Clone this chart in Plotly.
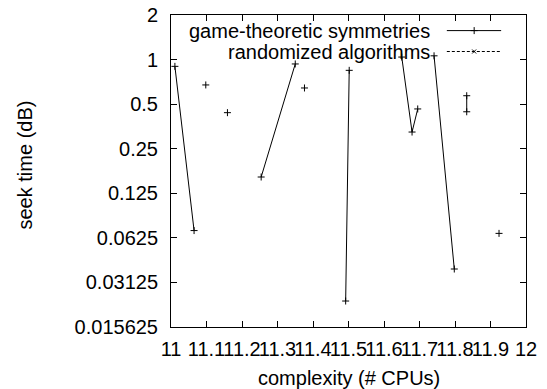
import plotly.graph_objects as go

# data (None breaks separate line segments)
gts_x = [11.011, 11.065, None, 11.098, None, 11.159, None, 11.254, 11.350, None,
         11.376, None, 11.502, 11.492, None, 11.650, 11.679, 11.695, None,
         11.741, 11.798, None, 11.833, 11.833, None, 11.924]
gts_y = [0.90, 0.070, None, 0.674, None, 0.438, None, 0.161, 0.934, None,
         0.643, None, 0.846, 0.0234, None, 1.04, 0.324, 0.464, None,
         1.06, 0.0385, None, 0.57, 0.444, None, 0.067]
rand_x = []
rand_y = []

series_names = ["game-theoretic symmetries", "randomized algorithms"]
x_ticks = [11.0, 11.1, 11.2, 11.3, 11.4, 11.5, 11.6, 11.7, 11.8, 11.9, 12.0]
x_ticklabels = ["11", "11.1", "11.2", "11.3", "11.4", "11.5", "11.6", "11.7", "11.8", "11.9", "12"]
y_ticks = [0.015625, 0.03125, 0.0625, 0.125, 0.25, 0.5, 1, 2]
y_ticklabels = ["0.015625", "0.03125", "0.0625", "0.125", "0.25", "0.5", "1", "2"]

FONT = "Liberation Sans, Arial, sans-serif"
FS = 20

fig = go.Figure()
fig.add_trace(go.Scatter(x=gts_x, y=gts_y, mode="lines+markers", connectgaps=False,
                         line=dict(color="black", width=1),
                         marker=dict(symbol="cross-thin", size=5, line=dict(color="black", width=1)),
                         showlegend=False))
fig.add_trace(go.Scatter(x=rand_x, y=rand_y, mode="lines+markers",
                         line=dict(color="black", width=1, dash="dash"),
                         marker=dict(symbol="x-thin", size=4, line=dict(color="black", width=1)),
                         showlegend=False))

# manual gnuplot-style legend (text right, sample on the right)
leg_y = [0.95, 0.883]
styles = [dict(dash="solid", sym="cross-thin", size=5), dict(dash="3px,2px", sym="x-thin", size=4)]
for name, yy, st in zip(series_names, leg_y, styles):
    fig.add_trace(go.Scatter(x=[0.777, 0.93], y=[yy, yy], mode="lines", xaxis="x2", yaxis="y2",
                             line=dict(color="black", width=1, dash=st["dash"]), showlegend=False,
                             hoverinfo="skip"))
    fig.add_trace(go.Scatter(x=[0.854], y=[yy], mode="markers", xaxis="x2", yaxis="y2",
                             marker=dict(symbol=st["sym"], size=st["size"], line=dict(color="black", width=1)),
                             showlegend=False, hoverinfo="skip"))
    fig.add_annotation(x=0.735, y=yy, xref="x2", yref="y2", text=name, showarrow=False,
                       xanchor="right", yanchor="middle", font=dict(family=FONT, size=FS, color="black"))

axis_common = dict(showline=True, linecolor="black", linewidth=1, mirror="ticks",
                   ticks="inside", ticklen=6, tickcolor="black", showgrid=False, zeroline=False,
                   automargin=False, tickfont=dict(family=FONT, size=FS, color="black"))

fig.update_layout(
    template="none",
    width=547, height=389,
    margin=dict(l=171, r=21, t=15, b=62, pad=0),
    paper_bgcolor="white", plot_bgcolor="white",
    xaxis=dict(range=[11, 12], tickvals=x_ticks, ticktext=x_ticklabels, ticklabelstandoff=4,
               tickangle=0, **axis_common),
    yaxis=dict(type="log", range=[-1.80618, 0.30103], tickvals=y_ticks, ticktext=y_ticklabels,
               ticklabelstandoff=8, **axis_common),
    xaxis2=dict(overlaying="x", range=[0, 1], visible=False, automargin=False),
    yaxis2=dict(overlaying="y", range=[0, 1], visible=False, automargin=False),
    showlegend=False,
)
fig.add_annotation(x=0.5, y=-0.165, xref="paper", yref="paper", text="complexity (# CPUs)",
                   showarrow=False, xanchor="center", yanchor="middle",
                   font=dict(family=FONT, size=FS, color="black"))
fig.add_annotation(x=-0.412, y=0.52, xref="paper", yref="paper", text="seek time (dB)", textangle=-90,
                   showarrow=False, xanchor="center", yanchor="middle",
                   font=dict(family=FONT, size=FS, color="black"))

fig.write_html("out.html")
